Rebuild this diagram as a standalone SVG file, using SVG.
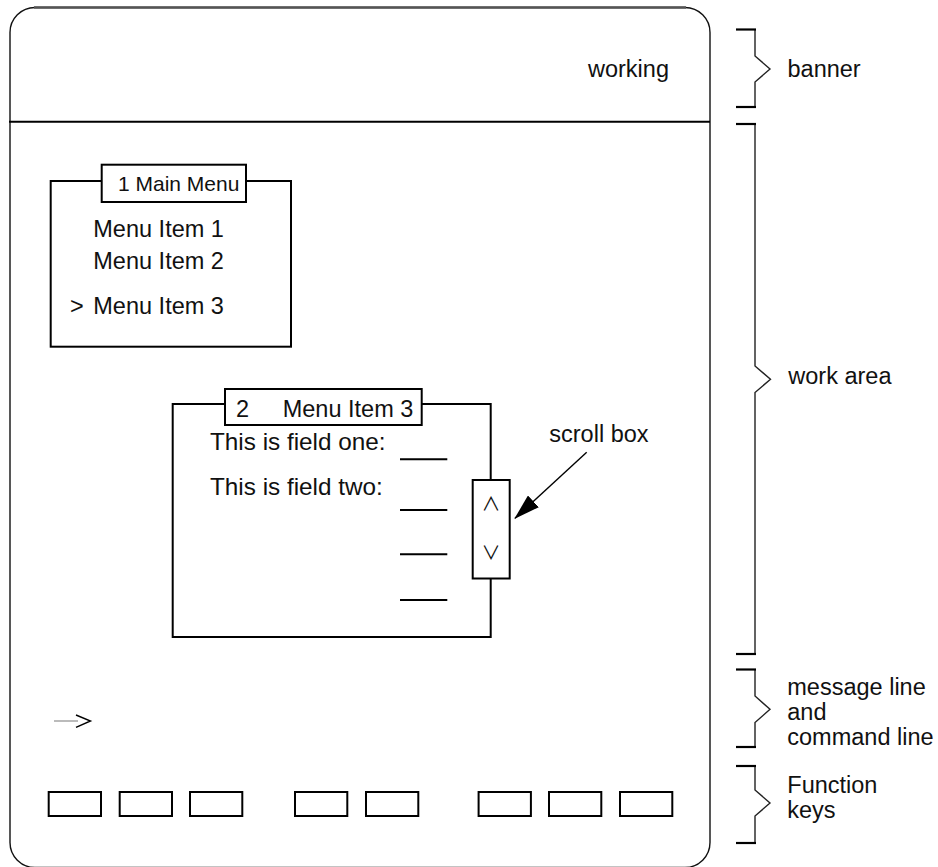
<svg xmlns="http://www.w3.org/2000/svg" width="938" height="867" viewBox="0 0 938 867">
  <style>
    text { font-family: "Liberation Sans", Arial, sans-serif; fill: #111; }
    .t { font-size: 23.5px; }
    .small { font-size: 21px; }
    .fld { font-size: 24.3px; }
    .box { fill: #fff; stroke: #000; stroke-width: 2; }
    .line { stroke: #000; stroke-width: 2; fill: none; }
    .brace { fill: none; stroke: #222; stroke-width: 1.4; }
    .tick { stroke: #000; stroke-width: 2.2; }
    .chev { font-family: "Noto Sans CJK JP", "DejaVu Sans", sans-serif; font-weight: 400; font-size: 19px; text-anchor: middle; }
  </style>
  <defs>
    <marker id="arrowhead" markerWidth="26" markerHeight="16" refX="25" refY="8" orient="auto" markerUnits="userSpaceOnUse">
      <path d="M0,0 L26,8 L0,16 Z" fill="#000"/>
    </marker>
  </defs>

  <rect width="938" height="867" fill="#fff"/>

  <!-- screen frame -->
  <g id="screen">
    <rect x="10" y="7.5" width="700" height="860" rx="25" ry="25" fill="none" stroke="#111" stroke-width="1.4"/>
    <line x1="34" y1="7.5" x2="686" y2="7.5" stroke="#555" stroke-width="2.4"/>
    <line class="line" x1="9" y1="121.7" x2="710" y2="121.7"/>
    <text class="t" x="588" y="77">working</text>
  </g>

  <!-- main menu window -->
  <g id="main-menu">
    <rect class="box" x="50.7" y="181" width="240.3" height="165.7"/>
    <rect class="box" x="101.7" y="164.7" width="144.3" height="37.3"/>
    <text class="small" x="118" y="191">1 Main Menu</text>
    <text class="t" x="93.3" y="237">Menu Item 1</text>
    <text class="t" x="93.3" y="268.5">Menu Item 2</text>
    <text class="t" x="70" y="313.5">&gt;</text>
    <text class="t" x="93.3" y="313.5">Menu Item 3</text>
  </g>

  <!-- submenu window with fields -->
  <g id="item3-window">
    <rect class="box" x="172.7" y="404" width="318" height="233"/>
    <rect class="box" x="225" y="389" width="196.7" height="36"/>
    <text class="t" x="236" y="416.7">2</text>
    <text class="t" x="282.7" y="416.7">Menu Item 3</text>
    <text class="fld" x="210" y="450">This is field one:</text>
    <text class="fld" x="210" y="495">This is field two:</text>
    <line class="line" x1="400" y1="459.3" x2="447.3" y2="459.3"/>
    <line class="line" x1="400" y1="510" x2="447.3" y2="510"/>
    <line class="line" x1="400" y1="554.3" x2="447.3" y2="554.3"/>
    <line class="line" x1="400" y1="600" x2="447.3" y2="600"/>
  </g>

  <!-- scroll box -->
  <g id="scroll-box">
    <rect class="box" x="472.7" y="480" width="37" height="98.5"/>
    <text class="chev" x="491" y="510.5">∧</text>
    <text class="chev" x="491" y="559.5">∨</text>
    <text class="t" x="549.3" y="442">scroll box</text>
  </g>

  <!-- command prompt -->
  <g id="command-prompt">
    <line x1="54" y1="721" x2="78" y2="721" stroke="#aaa" stroke-width="1.6"/>
    <polyline points="76,715 90.5,721 76,727.3" fill="none" stroke="#000" stroke-width="1.4"/>
  </g>

  <!-- function keys -->
  <g id="function-keys">
    <rect class="box" x="48.7" y="792" width="52.3" height="24"/>
    <rect class="box" x="119.7" y="792" width="52.3" height="24"/>
    <rect class="box" x="190" y="792" width="52.3" height="24"/>
    <rect class="box" x="295" y="792" width="52.3" height="24"/>
    <rect class="box" x="366" y="792" width="52.3" height="24"/>
    <rect class="box" x="478.6" y="792" width="52.3" height="24"/>
    <rect class="box" x="549" y="792" width="52.3" height="24"/>
    <rect class="box" x="620" y="792" width="52.3" height="24"/>
  </g>

  <!-- region braces -->
  <g id="brace-banner">
    <path class="brace" d="M755,29.5 V56 L770,69 L755,82 V107"/>
    <line class="tick" x1="736" y1="29.5" x2="756" y2="29.5"/>
    <line class="tick" x1="736" y1="107" x2="756" y2="107"/>
    <text class="t" x="787.5" y="77">banner</text>
  </g>
  <g id="brace-work-area">
    <path class="brace" d="M755,124 V366 L770.5,379.3 L755,392.5 V654"/>
    <line class="tick" x1="736" y1="124" x2="756" y2="124"/>
    <line class="tick" x1="736" y1="654" x2="756" y2="654"/>
    <text class="t" x="788.3" y="384.3">work area</text>
  </g>
  <g id="brace-message">
    <path class="brace" d="M755,669.5 V696 L770,709.3 L755,722.5 V747"/>
    <line class="tick" x1="736" y1="669.5" x2="756" y2="669.5"/>
    <line class="tick" x1="736" y1="747" x2="756" y2="747"/>
    <text class="t" x="787.3" y="695">message line</text>
    <text class="t" x="787.3" y="720">and</text>
    <text class="t" x="787.3" y="745">command line</text>
  </g>
  <g id="brace-function">
    <path class="brace" d="M755,766 V790 L770,803 L755,816 V843"/>
    <line class="tick" x1="736" y1="766" x2="756" y2="766"/>
    <line class="tick" x1="736" y1="843" x2="756" y2="843"/>
    <text class="t" x="787.3" y="793.3">Function</text>
    <text class="t" x="787.3" y="818">keys</text>
  </g>

  <!-- connectors -->
  <g id="connectors">
    <line x1="586.7" y1="452.3" x2="515" y2="518.3" stroke="#000" stroke-width="1.4" marker-end="url(#arrowhead)"/>
  </g>
</svg>
